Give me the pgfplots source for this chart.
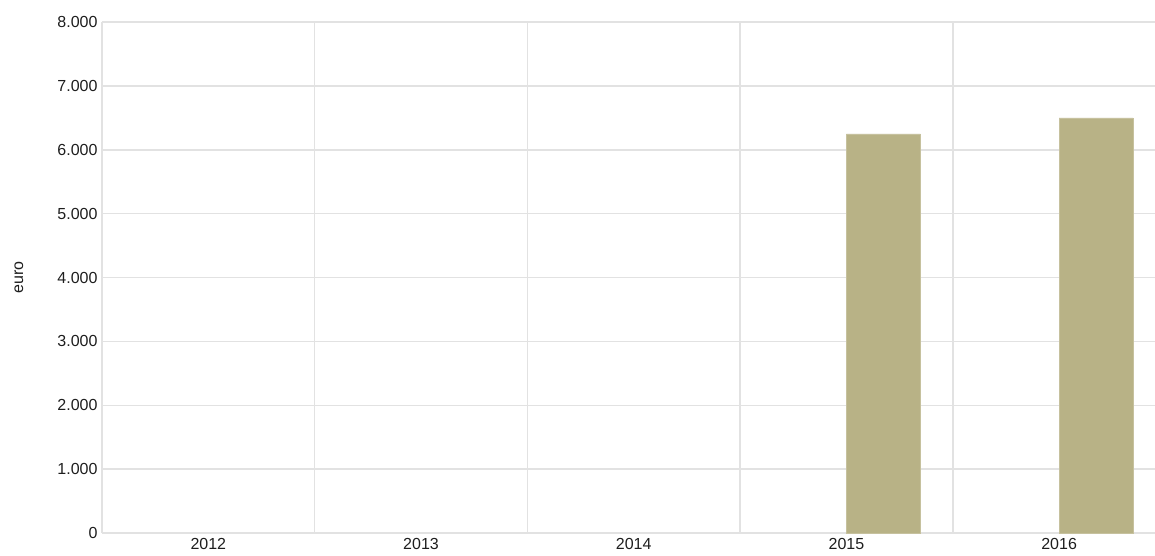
\documentclass[border=0pt]{standalone}
\usepackage{pgfplots}
\pgfplotsset{compat=1.18}
\usepackage{fontspec}
\setmainfont{Liberation Sans}
\definecolor{barcol}{RGB}{184,178,134}
\definecolor{gridcol}{RGB}{226,226,226}
\definecolor{txt}{RGB}{30,30,30}
\begin{document}
\begin{tikzpicture}
\path[use as bounding box] (-102pt,-22pt) rectangle (1053pt,533pt);
\begin{axis}[
  at={(0pt,0pt)}, anchor=south west,
  scale only axis,
  width=1053pt, height=511pt,
  xmin=-0.5, xmax=4.451,
  ymin=0, ymax=8000,
  ybar, bar width=74pt, bar shift=37pt,
  xtick={0,1,2,3,4},
  xticklabels={2012,2013,2014,2015,2016},
  minor xtick={0.5,1.5,2.5,3.5},
  ytick={0,1000,...,8000},
  xminorgrids=true, ymajorgrids=true,
  grid style={gridcol, line width=1.5pt},
  minor grid style={gridcol, line width=1.5pt},
  major tick length=0pt, minor tick length=0pt,
  axis x line*=bottom, axis y line*=left,
  axis line style={gridcol, line width=1.5pt, -},
  tick label style={font=\fontsize{16}{18}\selectfont, text=txt},
  /pgf/number format/.cd, 1000 sep={.}, assume math mode=true,
  /pgfplots/.cd,
  yticklabel style={xshift=-1pt},
  xticklabel style={yshift=-2pt},
  ylabel={euro},
  ylabel style={font=\fontsize{16}{18}\selectfont, text=txt, at={(axis description cs:-0.079,0.5)}, anchor=center},
  clip=true,
]
\addplot[fill=barcol, draw=barcol!80!white, line width=0.5pt] coordinates {(3,6250) (4,6500)};
\end{axis}
\end{tikzpicture}
\end{document}
